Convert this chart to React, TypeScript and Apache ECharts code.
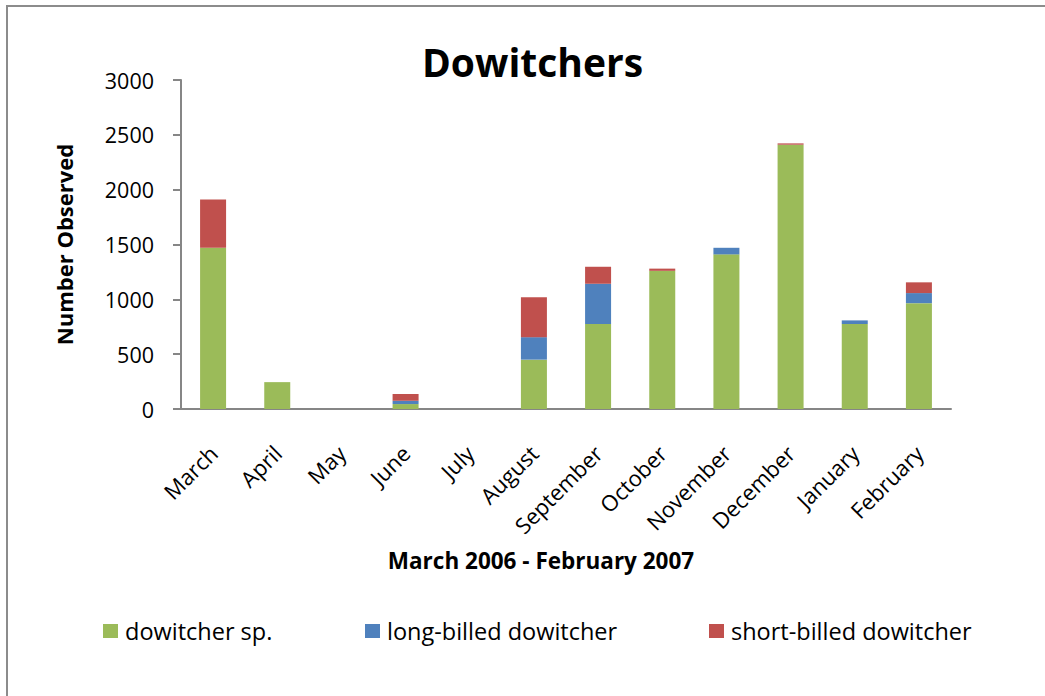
import React, { useEffect, useRef } from "react";
import * as echarts from "echarts";

const months = ["March", "April", "May", "June", "July", "August", "September", "October", "November", "December", "January", "February"];
const dowitcherSp = [1470, 245, 0, 45, 0, 450, 775, 1260, 1410, 2410, 775, 965];
const longBilled = [0, 0, 0, 30, 0, 205, 367, 0, 60, 0, 33, 92];
const shortBilled = [440, 0, 0, 62, 0, 365, 155, 20, 0, 12, 0, 98];
const seriesNames = ["dowitcher sp.", "long-billed dowitcher", "short-billed dowitcher"];
const colors = ["#9BBB59", "#4F81BD", "#C0504D"];

const FONT = "'Open Sans', sans-serif";

export default function App() {
  const ref = useRef<HTMLDivElement>(null);
  useEffect(() => {
    if (!ref.current) return;
    const chart = echarts.init(ref.current, null, { renderer: "svg" });
    const datas = [dowitcherSp, longBilled, shortBilled];
    const legendLefts = [103, 365, 709];
    chart.setOption({
      animation: false,
      textStyle: { fontFamily: FONT },
      title: {
        text: "Dowitchers",
        left: 422,
        top: 42,
        padding: 0,
        textStyle: { fontFamily: FONT, fontWeight: "bold", fontSize: 39, color: "#000" },
      },
      legend: seriesNames.map((n, i) => ({
        data: [n],
        left: legendLefts[i],
        top: 619,
        padding: 0,
        itemWidth: 15,
        itemHeight: 14,
        itemGap: 8,
        icon: "rect",
        textStyle: { fontFamily: FONT, fontSize: 23.5, color: "#000", padding: [0, 0, 0, 2] },
      })),
      grid: { left: 181, right: 94, top: 80, bottom: 287, containLabel: false },
      xAxis: {
        type: "category",
        data: months,
        name: "March 2006 - February 2007",
        nameLocation: "middle",
        nameGap: 140,
        nameTextStyle: {
          fontFamily: FONT,
          fontWeight: "bold",
          fontSize: 22.5,
          color: "#000",
          padding: [0, 50, 0, 0],
        },
        axisLine: { lineStyle: { color: "#868686", width: 2 } },
        axisTick: { length: 8, lineStyle: { color: "#868686", width: 2 } },
        axisLabel: {
          rotate: 45,
          align: "right",
          verticalAlign: "middle",
          margin: 40,
          interval: 0,
          fontFamily: FONT,
          fontSize: 22,
          color: "#000",
        },
      },
      yAxis: {
        type: "value",
        min: 0,
        max: 3000,
        interval: 500,
        name: "Number Observed",
        nameLocation: "middle",
        nameGap: 106,
        nameTextStyle: { fontFamily: FONT, fontWeight: "bold", fontSize: 22, color: "#000" },
        axisLine: { show: true, lineStyle: { color: "#868686", width: 2 } },
        axisTick: { show: true, length: 8, lineStyle: { color: "#868686", width: 2 } },
        splitLine: { show: false },
        axisLabel: {
          margin: 27,
          fontFamily: FONT,
          fontSize: 21.5,
          color: "#000",
          formatter: (v: number) => String(v),
        },
      },
      series: seriesNames.map((n, i) => ({
        name: n,
        type: "bar",
        stack: "total",
        data: datas[i],
        barWidth: 26,
        itemStyle: { color: colors[i] },
      })),
      graphic: [
        {
          type: "rect",
          shape: { x: 7, y: 6, width: 1100, height: 760 },
          style: { fill: "none", stroke: "#8c8c8c", lineWidth: 2 },
          silent: true,
        },
      ],
    });
    return () => chart.dispose();
  }, []);
  return (
    <div
      ref={ref}
      style={{ position: "absolute", left: 0, top: 0, width: 1045, height: 696, background: "#fff" }}
    />
  );
}
